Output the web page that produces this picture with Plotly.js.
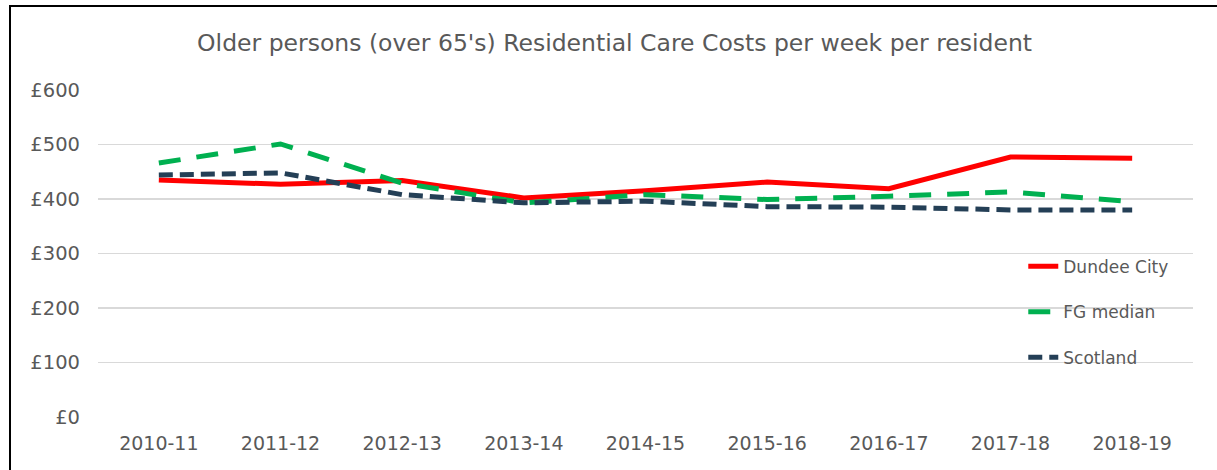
<!DOCTYPE html>
<html>
<head>
<meta charset="utf-8">
<script src="https://cdn.plot.ly/plotly-3.0.1.min.js"></script>
<style>
  html, body { margin: 0; padding: 0; background: #fff; }
  #wrap { position: relative; width: 1217px; height: 470px; overflow: hidden; }
  #frame { position: absolute; left: 9px; top: 5px; width: 1300px; height: 600px;
           border-left: 2px solid #000; border-top: 2px solid #000; pointer-events: none; }
  #chart { position: absolute; left: 0; top: 0; width: 1217px; height: 470px; }
</style>
</head>
<body>
<div id="wrap">
  <div id="chart"></div>
  <div id="frame"></div>
</div>
<script>
const years = ["2010-11","2011-12","2012-13","2013-14","2014-15","2015-16","2016-17","2017-18","2018-19"];
const dundeeCity = [435, 427, 434, 402, 415, 431, 419, 477, 475];
const fgMedian   = [466, 501, 429, 393, 408, 399, 405, 413, 395];
const scotland   = [444, 448, 408, 393, 396, 386, 385, 380, 380];
const yTickVals  = [0, 100, 200, 300, 400, 500, 600];
const yTickText  = ["£0","£100","£200","£300","£400","£500","£600"];

const font = "DejaVu Sans, sans-serif";
const grey = "#595959";

const traces = [
  {x: years, y: dundeeCity, name: "Dundee City", mode: "lines", legendgroup: "a",
   line: {color: "#ff0000", width: 5}},
  {x: years, y: fgMedian, name: "FG median", mode: "lines", legendgroup: "b",
   line: {color: "#00b050", width: 5, dash: "22px,16px"}},
  {x: years, y: scotland, name: "Scotland", mode: "lines", legendgroup: "c",
   line: {color: "#243f56", width: 5, dash: "14px,7px"}}
];

const layout = {
  width: 1217, height: 470,
  margin: {l: 98, r: 24, t: 90, b: 53},
  paper_bgcolor: "#ffffff", plot_bgcolor: "#ffffff",
  font: {family: font, color: grey, size: 18},
  title: {text: "Older persons (over 65's) Residential Care Costs per week per resident",
          font: {family: font, size: 23.5, color: grey}, x: 0.505, xanchor: "center", y: 0.908, yanchor: "middle"},
  xaxis: {type: "category", range: [-0.5, 8.5], showgrid: false, zeroline: false,
          showline: false, ticks: "", tickfont: {family: font, size: 19, color: grey},
          ticklabelstandoff: 13, fixedrange: true},
  yaxis: {range: [0, 600], tickvals: yTickVals, ticktext: yTickText, showgrid: true,
          gridcolor: "#d9d9d9", gridwidth: 1.5, zeroline: false, showline: false, ticks: "",
          tickfont: {family: font, size: 19.5, color: grey}, ticklabelstandoff: 17, fixedrange: true},
  legend: {x: 0.845, xanchor: "left", y: 0.515, yanchor: "top", bgcolor: "rgba(0,0,0,0)",
           font: {family: font, size: 17, color: grey}, traceorder: "grouped", tracegroupgap: 20.5},
  showlegend: true
};

Plotly.newPlot("chart", traces, layout, {displayModeBar: false, staticPlot: true});
</script>
</body>
</html>
